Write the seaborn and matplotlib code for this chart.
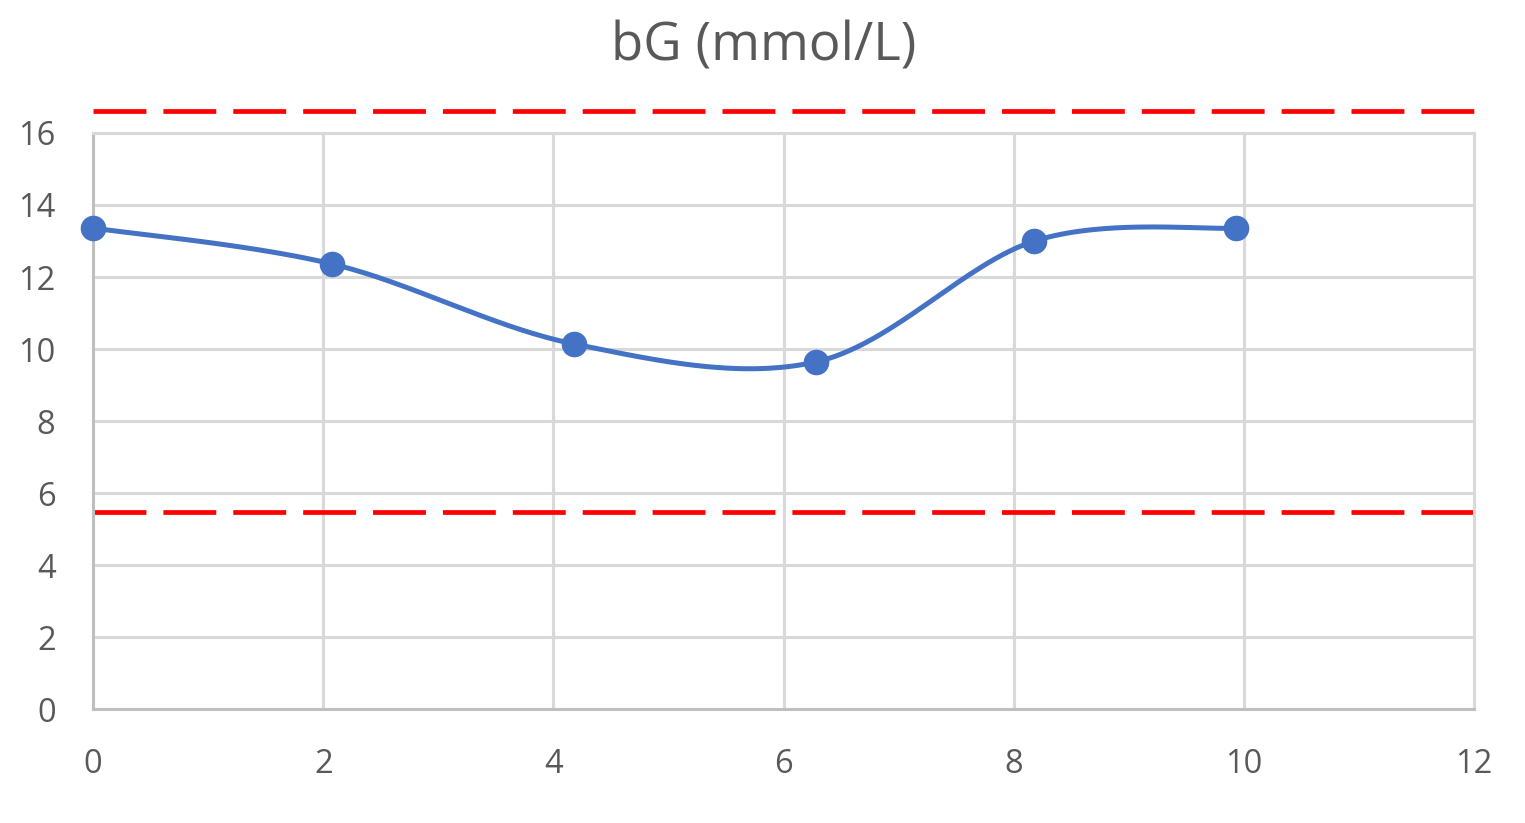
import numpy as np
import pandas as pd
import matplotlib
matplotlib.use("Agg")
import matplotlib.pyplot as plt
import seaborn as sns

# ---- data ----
time_h = [0.0, 2.08, 4.18, 6.28, 8.18, 9.93]
bg_mmol = [13.36, 12.36, 10.14, 9.64, 13.0, 13.36]
upper_limit = 16.6
lower_limit = 5.47
limit_x = [0, 12]
x_ticks = [0, 2, 4, 6, 8, 10, 12]
y_ticks = [0, 2, 4, 6, 8, 10, 12, 14, 16]
title = "bG (mmol/L)"

sns.set_theme(style="white")
plt.rcParams['font.family'] = ['Open Sans', 'DejaVu Sans']


def smooth(xs, ys, n=60):
    """Excel-like bezier smoothing through the points."""
    P = np.column_stack([xs, ys]).astype(float)
    out = []
    m = len(P)
    for i in range(m - 1):
        p0 = P[i - 1] if i > 0 else P[i]
        p1 = P[i]
        p2 = P[i + 1]
        p3 = P[i + 2] if i + 2 < m else P[i + 1]
        c1 = p1 + (p2 - p0) / 6.0
        c2 = p2 - (p3 - p1) / 6.0
        t = np.linspace(0, 1, n)[:, None]
        seg = ((1 - t) ** 3) * p1 + 3 * ((1 - t) ** 2) * t * c1 + 3 * (1 - t) * t ** 2 * c2 + t ** 3 * p2
        out.append(seg if i == 0 else seg[1:])
    return np.vstack(out)


curve = smooth(time_h, bg_mmol)
curve_df = pd.DataFrame({"x": curve[:, 0], "y": curve[:, 1]})
pts_df = pd.DataFrame({"x": time_h, "y": bg_mmol})

fig = plt.figure(figsize=(15.25, 8.23), dpi=100)
ax = fig.add_axes([0.061, 0.1385, 0.9056, 0.6999])

blue = "#4472C4"
ax.plot(curve_df["x"], curve_df["y"], color=blue, lw=3.6, solid_capstyle="round", zorder=3)
sns.scatterplot(data=pts_df, x="x", y="y", ax=ax, color=blue, s=340, edgecolor=blue,
                linewidth=0, zorder=4, clip_on=False, legend=False)

for yv in (upper_limit, lower_limit):
    ax.plot(limit_x, [yv, yv], color="#FF0000", lw=3.4, dashes=(11.2, 3.6), clip_on=False, zorder=2)

ax.set_xlim(0, 12)
ax.set_ylim(0, 16)
ax.set_xticks(x_ticks)
ax.set_yticks(y_ticks)
ax.set_xticklabels([str(v) for v in x_ticks])
ax.set_yticklabels([str(v) for v in y_ticks])
ax.set_xlabel("")
ax.set_ylabel("")
ax.grid(True, color="#D9D9D9", lw=2.2)
ax.set_axisbelow(True)
for s in ("top", "right"):
    ax.spines[s].set_color("#D9D9D9")
    ax.spines[s].set_linewidth(2.2)
for s in ("left", "bottom"):
    ax.spines[s].set_color("#BFBFBF")
    ax.spines[s].set_linewidth(2.2)
ax.tick_params(axis="both", length=0, labelsize=23.5, labelcolor="#595959")
ax.tick_params(axis="y", pad=27)
ax.tick_params(axis="x", pad=28)

fig.text(0.501, 0.943, title, ha="center", va="center", fontsize=38, color="#595959")

fig.savefig("out.png", dpi=100, facecolor="white")
